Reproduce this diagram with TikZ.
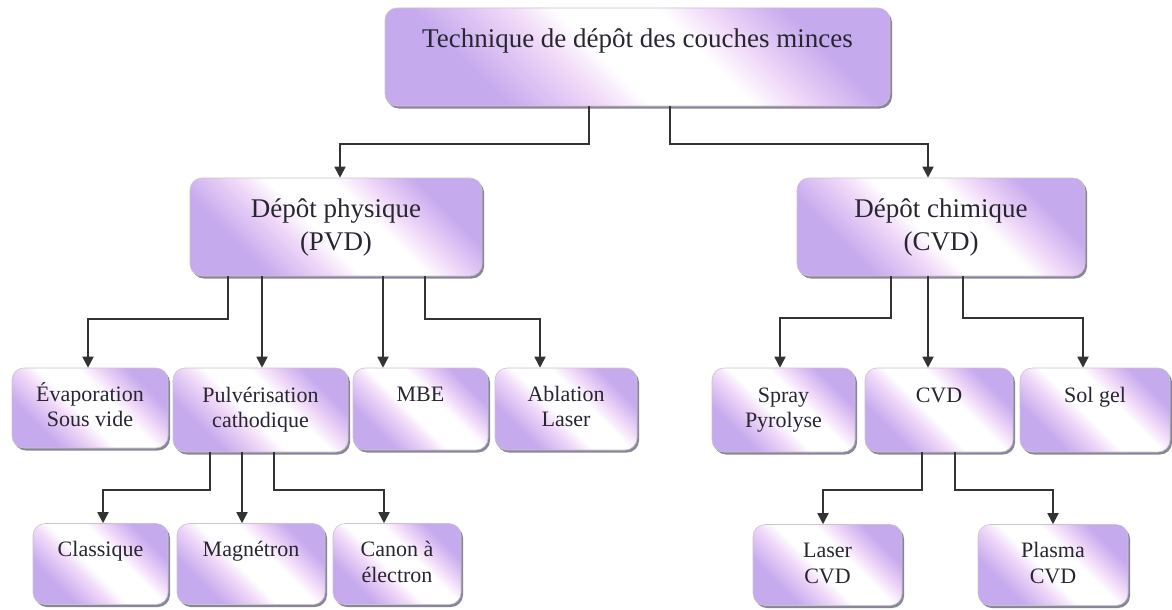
\documentclass[tikz,border=0pt]{standalone}
\usepackage{fontspec}
\setmainfont{Liberation Serif}
\usetikzlibrary{arrows.meta,shadows}

\definecolor{lav}{RGB}{198,170,238}
\definecolor{pinkish}{RGB}{240,216,248}
\definecolor{inkc}{RGB}{40,38,48}
\definecolor{shadowc}{RGB}{100,92,120}

% diagonal lavender / white / lavender fill of the boxes
\pgfdeclarehorizontalshading{lavband}{100bp}{color(0bp)=(lav); color(29bp)=(lav); color(40bp)=(pinkish); color(46bp)=(white); color(58bp)=(white); color(64bp)=(pinkish); color(73bp)=(lav); color(100bp)=(lav)}

\newcommand\twol[2]{\strut#1\\\strut#2}

\tikzset{
  box/.style={rectangle, rounded corners=12pt, draw=gray!45, line width=0.6pt,
    shade, shading=lavband, shading angle=45, inner sep=0pt, align=center, text=inkc,
    drop shadow={shadow xshift=2pt, shadow yshift=-2.5pt, fill=shadowc, opacity=0.75}},
  lvlzero/.style={box, font=\fontsize{27}{33}\selectfont},
  lvlone/.style={box, font=\fontsize{27}{33}\selectfont, minimum height=98pt},
  lvltwo/.style={box, font=\fontsize{22}{25}\selectfont},
  lvlthree/.style={box, font=\fontsize{22}{26}\selectfont, minimum height=81pt},
  arr/.style={draw=black!80, line width=1.8pt, -{Triangle[width=11pt,length=11pt]}},
}

\begin{document}
\begin{tikzpicture}[x=1pt,y=-1pt]
\useasboundingbox (0,0) rectangle (1172,610);

% root
\node[lvlzero, minimum width=505pt, minimum height=98pt] (root) at (637.5,57)
  {\twol{Technique de dépôt des couches minces}{}};

% first level
\node[lvlone, minimum width=292pt] (pvd) at (336,227) {\twol{Dépôt physique}{(PVD)}};
\node[lvlone, minimum width=288pt] (cvd) at (941,227) {\twol{Dépôt chimique}{(CVD)}};

% second level, physical branch
\node[lvltwo, minimum width=156pt, minimum height=80pt] (evap) at (90,408) {\twol{Évaporation}{Sous vide}};
\node[lvltwo, minimum width=175pt, minimum height=84pt] (pulv) at (260.5,410) {\twol{Pulvérisation}{cathodique}};
\node[lvltwo, minimum width=135pt, minimum height=82pt] (mbe) at (420.5,409) {\twol{MBE}{}};
\node[lvltwo, minimum width=142pt, minimum height=82pt] (abl) at (566,409) {\twol{Ablation}{Laser}};

% second level, chemical branch
\node[lvltwo, minimum width=143pt, minimum height=84pt] (spray) at (783.5,410) {\twol{Spray}{Pyrolyse}};
\node[lvltwo, minimum width=148pt, minimum height=84pt] (cvdm) at (939,410) {\twol{CVD}{}};
\node[lvltwo, minimum width=150pt, minimum height=84pt] (sol) at (1095,410) {\twol{Sol gel}{}};

% third level
\node[lvlthree, minimum width=135pt] (clas) at (100.5,564) {\twol{Classique}{}};
\node[lvlthree, minimum width=148pt] (magn) at (251,564) {\twol{Magnétron}{}};
\node[lvlthree, minimum width=128pt] (canon) at (397,564) {\twol{Canon à}{électron}};
\node[lvlthree, minimum width=149pt] (laser) at (827.5,565) {\twol{Laser}{CVD}};
\node[lvlthree, minimum width=150pt] (plasma) at (1053,565) {\twol{Plasma}{CVD}};

% connectors from the root
\draw[arr] ([xshift=-48.5pt]root.south) -- ++(0,38) -| ([xshift=4pt]pvd.north);
\draw[arr] ([xshift=32.5pt]root.south) -- ++(0,38) -| ([xshift=-13pt]cvd.north);

% physical branch
\draw[arr] ([xshift=-108pt]pvd.south) -- ++(0,43) -| ([xshift=-2pt]evap.north);
\draw[arr] ([xshift=1.5pt]pulv.north |- pvd.south) -- ([xshift=1.5pt]pulv.north);
\draw[arr] ([xshift=-37.5pt]mbe.north |- pvd.south) -- ([xshift=-37.5pt]mbe.north);
\draw[arr] ([xshift=89pt]pvd.south) -- ++(0,43) -| ([xshift=-26pt]abl.north);

% chemical branch
\draw[arr] ([xshift=-50pt]cvd.south) -- ++(0,42) -| ([xshift=-3.5pt]spray.north);
\draw[arr] ([xshift=-11pt]cvdm.north |- cvd.south) -- ([xshift=-11pt]cvdm.north);
\draw[arr] ([xshift=22pt]cvd.south) -- ++(0,42) -| ([xshift=-12pt]sol.north);

% sputtering variants
\draw[arr] ([xshift=-50.5pt]pulv.south) -- ++(0,38) -| ([xshift=2.5pt]clas.north);
\draw[arr] ([xshift=-9pt]magn.north |- pulv.south) -- ([xshift=-9pt]magn.north);
\draw[arr] ([xshift=13.5pt]pulv.south) -- ++(0,38) -| ([xshift=-13pt]canon.north);

% CVD variants
\draw[arr] ([xshift=-17pt]cvdm.south) -- ++(0,38) -| ([xshift=-4.5pt]laser.north);
\draw[arr] ([xshift=16pt]cvdm.south) -- ++(0,38) -| (plasma.north);
\end{tikzpicture}
\end{document}
